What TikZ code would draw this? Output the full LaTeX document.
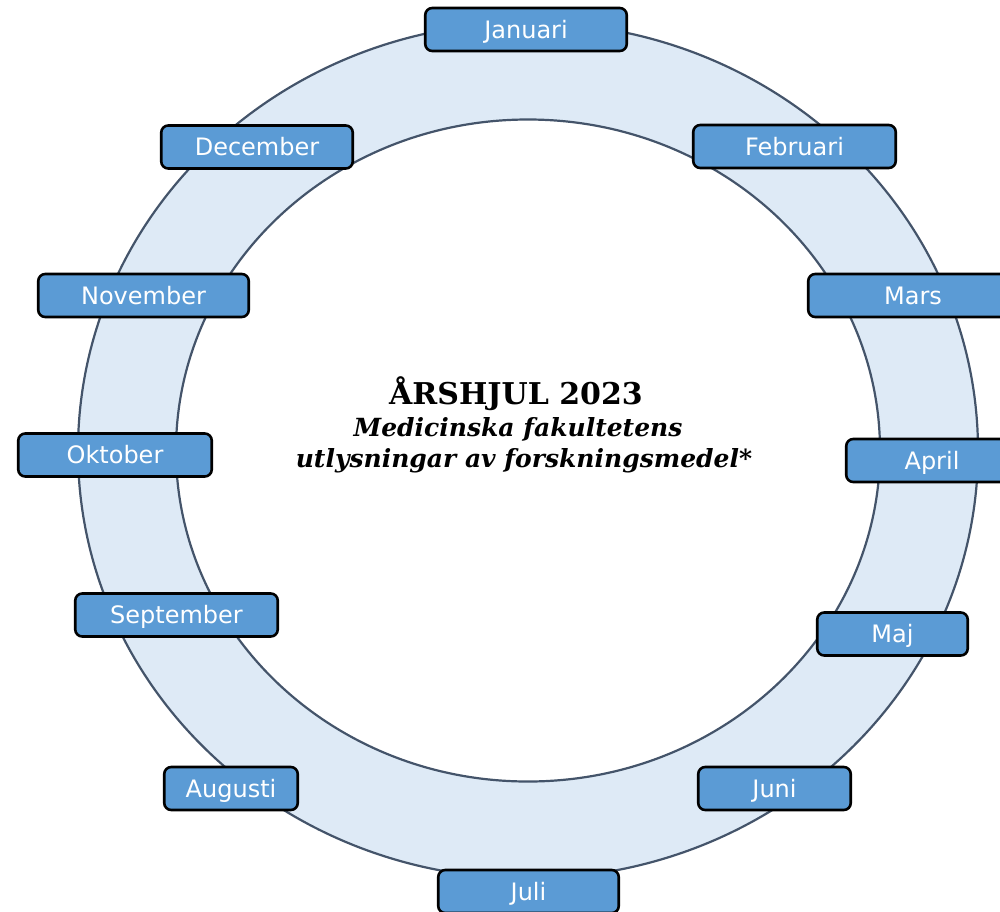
\documentclass[tikz,border=0pt]{standalone}
\usepackage{fontspec}
\setmainfont{DejaVu Serif}
\newfontfamily\labelfont{DejaVu Sans}
\definecolor{boxblue}{HTML}{5B9BD5}
\definecolor{ringfill}{HTML}{DEEAF6}
\definecolor{ringline}{HTML}{44546A}
\begin{document}
\begin{tikzpicture}[x=1pt,y=-1pt,
  month/.style={draw=black, line width=2.6pt, fill=boxblue, rounded corners=7pt,
    text=white, font=\labelfont\fontsize{24}{28}\selectfont,
    text height=17.5pt, text depth=0pt,
    minimum height=43pt, inner sep=0pt},
  ringedge/.style={draw=ringline, line width=2.2pt}]
\useasboundingbox (0,0) rectangle (1000,911);
\clip (0,0) rectangle (1000,911);
% ring
\fill[ringfill, even odd rule] (528,450.5) ellipse [x radius=450, y radius=428]
  (528,450.5) ellipse [x radius=352, y radius=331];
\draw[ringedge] (528,450.5) ellipse [x radius=450, y radius=428];
\draw[ringedge] (528,450.5) ellipse [x radius=352, y radius=331];
% title
\node[anchor=base, font=\bfseries\fontsize{30}{34}\selectfont] (title) at (516,404) {ÅRSHJUL 2023};
\node[anchor=base, font=\bfseries\itshape\fontsize{25}{30}\selectfont] (sub1) at (518,436) {Medicinska fakultetens};
\node[anchor=base, font=\bfseries\itshape\fontsize{25}{30}\selectfont] (sub2) at (524,467) {utlysningar av forskningsmedel*};
% months
\node[month, minimum width=201.5pt] (jan) at (526,29.5) {Januari};
\node[month, minimum width=202.5pt] (feb) at (794.5,146.5) {Februari};
\node[month, minimum width=209.5pt] (mar) at (913,295.5) {Mars};
\node[month, minimum width=171.5pt] (apr) at (932,460.5) {April};
\node[month, minimum width=150.5pt] (maj) at (892.5,634) {Maj};
\node[month, minimum width=152.5pt] (jun) at (774.5,788.5) {Juni};
\node[month, minimum width=180.5pt] (jul) at (528.5,891.5) {Juli};
\node[month, minimum width=133.5pt] (aug) at (231,788.5) {Augusti};
\node[month, minimum width=202.5pt] (sep) at (176.5,615) {September};
\node[month, minimum width=193.5pt] (okt) at (115,455) {Oktober};
\node[month, minimum width=210.5pt] (nov) at (143.5,295.5) {November};
\node[month, minimum width=191.5pt] (dec) at (257,147) {December};
\end{tikzpicture}
\end{document}
